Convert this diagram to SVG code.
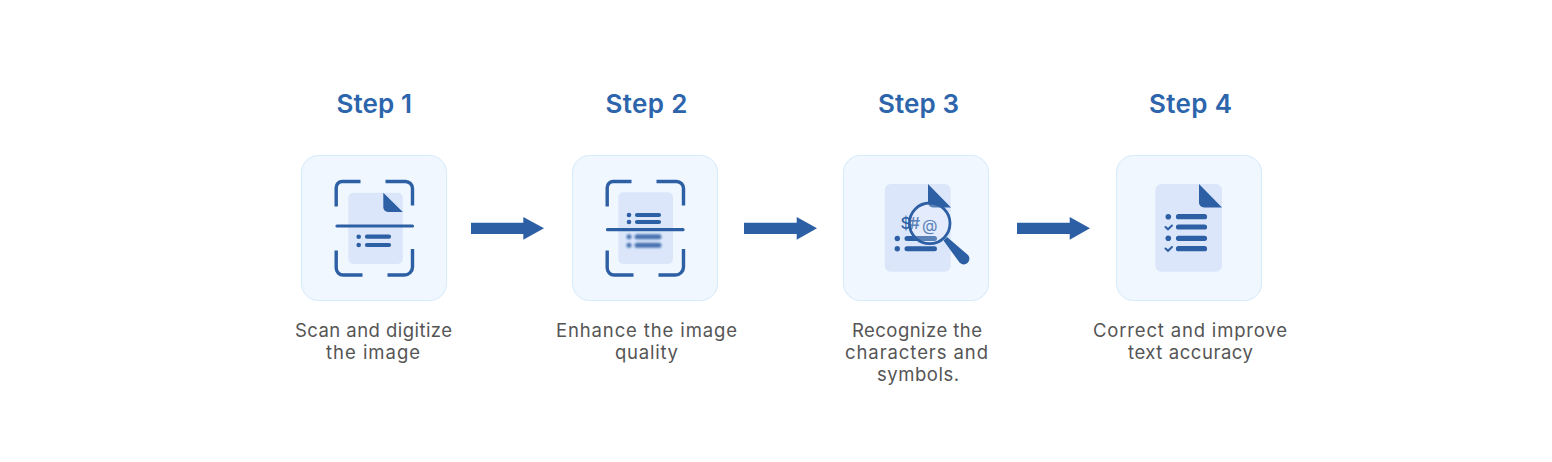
<svg xmlns="http://www.w3.org/2000/svg" width="1552" height="462" viewBox="0 0 1552 462">
<style>
.title{font:600 26px Inter,"Open Sans",sans-serif;fill:#2c65ac;text-anchor:start}
.body{font:400 18.500px Inter,"Open Sans",sans-serif;fill:#555}
.card{fill:#f0f7ff;stroke:#d4ebfc;stroke-width:1}
.doc{fill:#dbe6fb}
.bl{fill:#2d5fa4}
.br{fill:none;stroke:#2d5fa4;stroke-width:3.4;stroke-linecap:butt;stroke-linejoin:round}
.ln{fill:none;stroke:#2d5fa4;stroke-linecap:round}
</style>
<defs>
<filter id="blur" x="-20%" y="-50%" width="140%" height="200%"><feGaussianBlur stdDeviation="0.9"/></filter>
<g id="brackets">
<path class="br" d="M1.700 26.500V7.500a6 6 0 0 1 6-6H26"/>
<path class="br" d="M51 1.500H71a7 7 0 0 1 7 7V25.500"/>
<path class="br" d="M1.700 70.500V88a7 7 0 0 0 7 7H28"/>
<path class="br" d="M53 95H70a8 8 0 0 0 8-8V69"/>
</g>
</defs>
<g id="step1">
<text class="title" x="336.500" y="113" textLength="75.500">Step 1</text>
<rect class="card" x="301.500" y="155.500" width="145" height="145" rx="17"/>
<rect class="doc" x="348.300" y="192.700" width="54.500" height="71.300" rx="5"/>
<use href="#brackets" x="334.500" y="180"/>
<path class="bl" d="M383.300 192.700L402.800 212H388a4.700 4.700 0 0 1-4.700-4.700Z"/>
<path class="ln" stroke-width="3.200" d="M337 226H412.500"/>
<circle class="bl" cx="358.700" cy="236.700" r="2.300"/><circle class="bl" cx="358.700" cy="245" r="2.300"/>
<path class="ln" stroke-width="4.200" d="M367 236.700H389M367 245H389"/>
<text class="body" x="295" y="336.500" textLength="157">Scan and digitize</text>
<text class="body" x="326" y="359" textLength="94">the image</text>
</g>
<g id="step2">
<text class="title" x="605.500" y="113" textLength="82">Step 2</text>
<rect class="card" x="572.500" y="155.500" width="145" height="145" rx="17"/>
<rect class="doc" x="618.300" y="192.300" width="54.700" height="71.700" rx="5"/>
<use href="#brackets" x="605.500" y="180"/>
<circle class="bl" cx="629" cy="215" r="2.300"/><circle class="bl" cx="629" cy="222" r="2.300"/>
<path class="ln" stroke-width="4.200" d="M637 215H659M637 222H659"/>
<g filter="url(#blur)" opacity=".85">
<circle class="bl" cx="629" cy="236.700" r="2.500"/><circle class="bl" cx="629" cy="245.300" r="2.500"/>
<path class="ln" stroke-width="5" d="M637 236.700H659M637 245.300H659"/>
</g>
<path class="ln" stroke-width="3.200" d="M607.500 229.700H683"/>
<text class="body" x="556" y="336.500" textLength="181">Enhance the image</text>
<text class="body" x="615" y="359" textLength="63">quality</text>
</g>
<g id="step3">
<text class="title" x="878" y="113" textLength="81">Step 3</text>
<rect class="card" x="843.500" y="155.500" width="145" height="145" rx="17"/>
<rect class="doc" x="884.700" y="184" width="66" height="87.700" rx="6"/>
<path class="bl" d="M928 184L951 207.500H933a5 5 0 0 1-5-5Z"/>
<text x="900.500" y="229" font-family="Inter,sans-serif" font-size="16.500" font-weight="500" fill="#2d5fa4" textLength="19.500">$#</text>
<text x="922" y="231" font-family="Inter,sans-serif" font-size="16" fill="#2d5fa4">@</text>
<circle class="bl" cx="897.300" cy="238.500" r="2.700"/><circle class="bl" cx="897.300" cy="248.700" r="2.700"/>
<path class="ln" stroke-width="5" d="M907 238.500H934.500M907 248.700H934.500"/>
<circle cx="929.700" cy="223.300" r="20.300" fill="#fff" fill-opacity=".22" stroke="#2d5fa4" stroke-width="2.800"/>
<path class="bl" d="M943.500 240.500L947 237L968 255a5 5 0 0 1-8.500 7.500Z"/>
<text class="body" x="852" y="336.500" textLength="130">Recognize the</text>
<text class="body" x="845" y="359" textLength="143">characters and</text>
<text class="body" x="877" y="381" textLength="82">symbols.</text>
</g>
<g id="step4">
<text class="title" x="1149" y="113" textLength="83">Step 4</text>
<rect class="card" x="1116.500" y="155.500" width="145" height="145" rx="17"/>
<rect class="doc" x="1155.300" y="184" width="66.700" height="87.700" rx="6"/>
<path class="bl" d="M1199 184L1222 207.500H1204a5 5 0 0 1-5-5Z"/>
<circle class="bl" cx="1168.300" cy="216.700" r="2.800"/><circle class="bl" cx="1168.300" cy="238.300" r="2.800"/>
<path class="ln" stroke-width="2" d="M1165.500 227L1168 229.300L1172 225.500M1165.500 248.500L1168 250.800L1172 247"/>
<path class="ln" stroke-width="5.200" d="M1178.500 216.700H1204.500M1178.500 227H1204.500M1178.500 238.300H1204.500M1178.500 248.700H1204.500"/>
<text class="body" x="1093" y="336.500" textLength="194">Correct and improve</text>
<text class="body" x="1128" y="359" textLength="125">text accuracy</text>
</g>
<g id="connectors">
<path class="bl" d="M471 222.700H523.300V217L544 228.300L523.300 239.700V234H471Z"/>
<path class="bl" d="M744 222.700H796.700V217L817 228.300L796.700 239.700V234H744Z"/>
<path class="bl" d="M1017 222.700H1069.700V217L1090 228.300L1069.700 239.700V234H1017Z"/>
</g>
</svg>
